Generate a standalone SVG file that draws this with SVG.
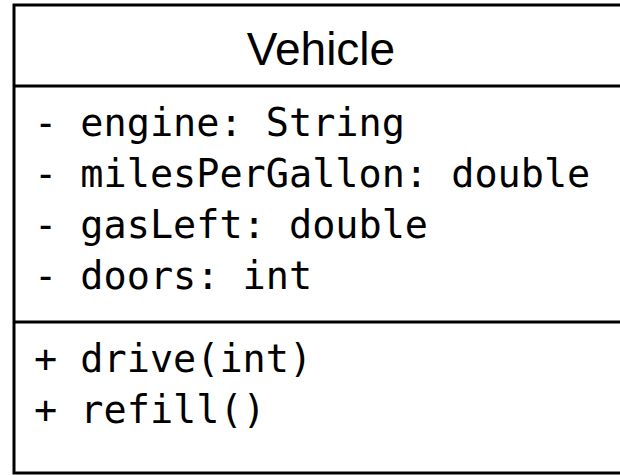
<svg xmlns="http://www.w3.org/2000/svg" width="620" height="475" viewBox="0 0 620 475">
  <style>
    .box { fill: #ffffff; stroke: #000000; stroke-width: 3; }
    .line { stroke: #000000; stroke-width: 3; }
    .title { font-family: "Liberation Sans", Arial, sans-serif; font-size: 46px; fill: #000000; text-anchor: middle; }
    .member { font-family: "DejaVu Sans Mono", "Liberation Mono", monospace; font-size: 38.5px; fill: #000000; }
  </style>
  <rect width="620" height="475" fill="#ffffff"/>
  <!-- class box: name, attributes, operations -->
  <g id="vehicle">
    <rect class="box" x="14" y="5" width="640" height="468"/>
    <line class="line" x1="14" y1="86" x2="620" y2="86"/>
    <line class="line" x1="14" y1="322" x2="620" y2="322"/>
    <text class="title" x="321" y="65">Vehicle</text>
    <text class="member" x="34" y="136">- engine: String</text>
    <text class="member" x="34" y="187">- milesPerGallon: double</text>
    <text class="member" x="34" y="238">- gasLeft: double</text>
    <text class="member" x="34" y="289">- doors: int</text>
    <text class="member" x="34" y="372">+ drive(int)</text>
    <text class="member" x="34" y="423">+ refill()</text>
  </g>
</svg>
